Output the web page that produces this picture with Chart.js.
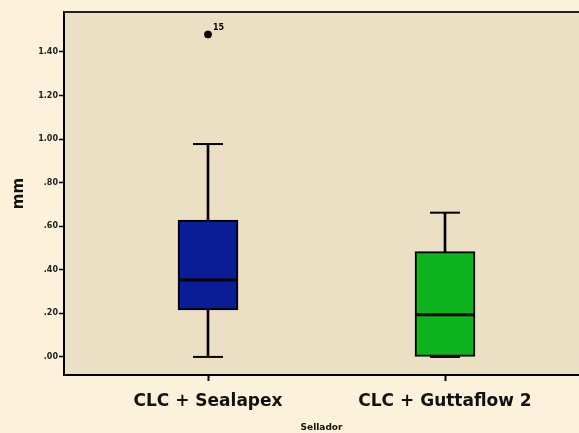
<!DOCTYPE html>
<html>
<head>
<meta charset="utf-8">
<script src="https://cdn.jsdelivr.net/npm/chart.js@4.4.1/dist/chart.umd.min.js"></script>
<style>
  html, body { margin: 0; padding: 0; background: #fcf1da; }
  #wrap { width: 579px; height: 433px; }
</style>
</head>
<body>
<div id="wrap"><canvas id="boxChart"></canvas></div>
<script>
// datos
var categories = ['CLC + Sealapex', 'CLC + Guttaflow 2'];
var whiskerLow = [0.00, 0.00];
var q1 = [0.216, 0.00];
var median = [0.353, 0.193];
var q3 = [0.628, 0.483];
var whiskerHigh = [0.977, 0.662];
var outlierValues = [1.48];
var outlierGroup = [1];
var outlierLabels = ['15'];
var yTicks = [0, 0.2, 0.4, 0.6, 0.8, 1.0, 1.2, 1.4];
var boxColors = ['#0b1d96', '#0db41d'];

var xs = categories.map((c, i) => i + 1);

// fondo del area del grafico + linea superior + etiqueta del atipico
var plotBg = {
    id: 'plotBg',
    beforeDraw: function (chart) {
        var ctx = chart.ctx, a = chart.chartArea;
        ctx.save();
        ctx.fillStyle = '#ece0c4';
        ctx.fillRect(a.left, a.top, a.right - a.left, a.bottom - a.top);
        ctx.restore();
    },
    afterDraw: function (chart) {
        var ctx = chart.ctx, a = chart.chartArea;
        ctx.save();
        ctx.strokeStyle = '#222';
        ctx.lineWidth = 2;
        ctx.beginPath();
        ctx.moveTo(a.left, a.top);
        ctx.lineTo(a.right, a.top);
        ctx.stroke();
        // numero del caso atipico
        var meta = chart.getDatasetMeta(chart.data.datasets.length - 1);
        ctx.fillStyle = '#000';
        ctx.font = 'bold 8px "DejaVu Sans"';
        ctx.textAlign = 'left';
        ctx.textBaseline = 'middle';
        meta.data.forEach(function (pt, i) {
            ctx.fillText(outlierLabels[i], pt.x + 5, pt.y - 7);
        });
        ctx.restore();
    }
};

var ctx = document.getElementById('boxChart').getContext('2d');
var chart = new Chart(ctx, {
    type: 'bar',
    data: {
        datasets: [{
            // bigotes
            type: 'bar',
            data: xs.map((x, i) => ({ x: x, y: [whiskerLow[i], whiskerHigh[i]] })),
            backgroundColor: '#000',
            barThickness: 2,
            grouped: false,
            order: 5
        }, {
            // cajas
            type: 'bar',
            data: xs.map((x, i) => ({ x: x, y: [q1[i], q3[i]] })),
            backgroundColor: boxColors,
            borderColor: '#000',
            borderWidth: 2,
            borderSkipped: false,
            barThickness: 60,
            grouped: false,
            order: 4
        }, {
            // extremos de los bigotes
            type: 'scatter',
            data: xs.map((x, i) => ({ x: x, y: whiskerHigh[i] })).concat(xs.map((x, i) => ({ x: x, y: whiskerLow[i] }))),
            pointStyle: 'line',
            pointRadius: 15,
            borderColor: '#000',
            borderWidth: 2,
            order: 3
        }, {
            // medianas
            type: 'scatter',
            data: xs.map((x, i) => ({ x: x, y: median[i] })),
            pointStyle: 'line',
            pointRadius: 29,
            borderColor: '#000',
            borderWidth: 3,
            order: 2
        }, {
            // atipicos
            type: 'scatter',
            data: outlierValues.map((v, i) => ({ x: outlierGroup[i], y: v })),
            pointStyle: 'circle',
            pointRadius: 3.5,
            backgroundColor: '#000',
            borderColor: '#000',
            order: 1
        }]
    },
    options: {
        responsive: true,
        maintainAspectRatio: false,
        animation: false,
        layout: { autoPadding: false, padding: { left: 0, top: 12, right: 0, bottom: 0 } },
        plugins: {
            legend: { display: false },
            tooltip: { enabled: false }
        },
        scales: {
            x: {
                type: 'linear',
                offset: false,
                min: 0.3924,
                max: 2.5654,
                afterBuildTicks: function (scale) {
                    scale.ticks = xs.map(v => ({ value: v }));
                },
                afterFit: function (scale) {
                    scale.height = 58;
                    scale.paddingLeft = 0;
                    scale.paddingRight = 0;
                },
                grid: {
                    offset: false,
                    drawOnChartArea: false,
                    drawTicks: true,
                    tickLength: 6,
                    tickWidth: 2,
                    color: '#000'
                },
                border: { color: '#000', width: 2 },
                ticks: {
                    padding: 10,
                    maxRotation: 0,
                    autoSkip: false,
                    color: '#111',
                    font: { family: 'DejaVu Sans', weight: 'bold', size: 17 },
                    callback: function (v) { return categories[Math.round(v) - 1]; }
                },
                title: {
                    display: true,
                    text: 'Sellador',
                    color: '#111',
                    padding: { top: 0, bottom: 0 },
                    font: { family: 'DejaVu Sans', weight: 'bold', size: 9 }
                }
            },
            y: {
                min: -0.083,
                max: 1.583,
                afterBuildTicks: function (scale) {
                    scale.ticks = yTicks.map(v => ({ value: v }));
                },
                afterFit: function (scale) {
                    scale.width = 64;
                    scale.paddingTop = 0;
                    scale.paddingBottom = 0;
                },
                grid: {
                    drawOnChartArea: false,
                    drawTicks: true,
                    tickLength: 5,
                    tickWidth: 1.5,
                    color: '#000'
                },
                border: { color: '#000', width: 2 },
                ticks: {
                    padding: 1,
                    color: '#222',
                    font: { family: 'DejaVu Sans', weight: 'bold', size: 8 },
                    callback: function (v) { return v.toFixed(2).replace(/^0/, ''); }
                },
                title: {
                    display: true,
                    text: 'mm',
                    color: '#111',
                    padding: { top: 10, bottom: 0 },
                    font: { family: 'DejaVu Sans', weight: 'bold', size: 15 }
                }
            }
        }
    },
    plugins: [plotBg]
});
</script>
</body>
</html>
